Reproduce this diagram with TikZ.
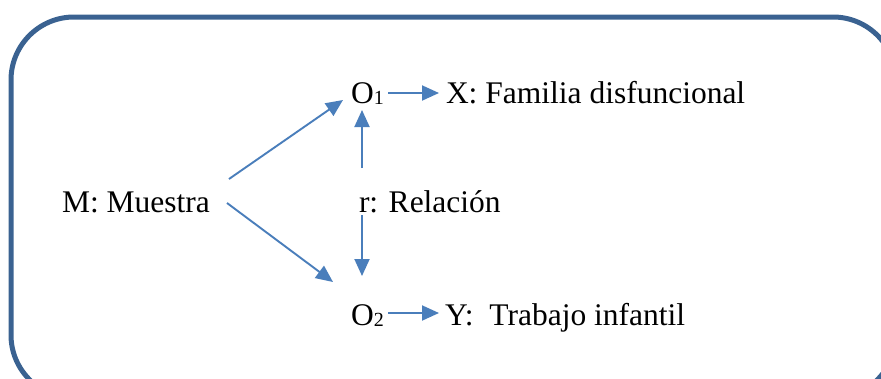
\documentclass[tikz,border=0pt]{standalone}
\usepackage{fontspec}
\setmainfont{Liberation Serif}
\usetikzlibrary{arrows.meta}
\definecolor{boxc}{RGB}{58,98,145}
\definecolor{arrc}{RGB}{74,126,187}
\newcommand\sbx[1]{\raisebox{-1pt}{\fontsize{20}{20}\selectfont #1}}
\tikzset{
  txt/.style={inner sep=0pt, outer sep=0pt, anchor=base west, font=\fontsize{31.5}{36}\selectfont},
  arr/.style={draw=arrc, line width=1.9pt, -{Triangle[length=17pt,width=15pt]}},
  frame/.style={draw=boxc, line width=5pt, rounded corners=63pt}
}
\begin{document}
\begin{tikzpicture}[x=1pt,y=-1pt]
\useasboundingbox (0,0) rectangle (881,378);
\clip (0,0) rectangle (881,378);
\draw[frame] (11,17) rectangle (896,398);
\node[txt] (M) at (62,212) {M: Muestra};
\node[txt] (O1) at (351,103) {O\sbx{1}};
\node[txt] (X) at (446,103) {X: Familia disfuncional};
\node[txt] (r) at (359,212) {r: Relación};
\node[txt] (O2) at (351,325) {O\sbx{2}};
\node[txt] (Y) at (445,325) {Y:\hspace{8pt} Trabajo infantil};
\draw[arr] ([shift={(167,-33)}]M.base west) -- ([shift={(-8,-3)}]O1.base west);
\draw[arr] ([shift={(165,-9)}]M.base west) -- ([shift={(-18,-43)}]O2.base west);
\draw[arr] ([shift={(3,-44)}]r.base west) -- ([shift={(11,7)}]O1.base west);
\draw[arr] ([shift={(3,3)}]r.base west) -- ([shift={(11,-49)}]O2.base west);
\draw[arr] ([shift={(37,-10)}]O1.base west) -- ([shift={(-7,-10)}]X.base west);
\draw[arr] ([shift={(37,-12)}]O2.base west) -- ([shift={(-6,-12)}]Y.base west);
\end{tikzpicture}
\end{document}
